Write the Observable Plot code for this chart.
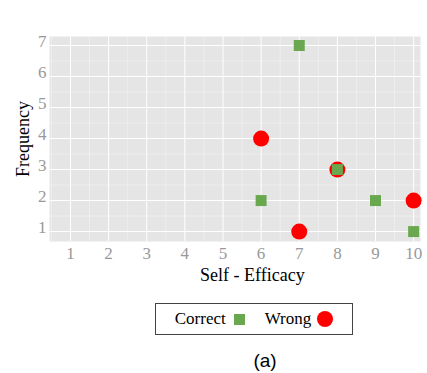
<!DOCTYPE html>
<html>
<head>
<meta charset="utf-8">
<script src="https://cdn.jsdelivr.net/npm/d3@7"></script>
<script src="https://cdn.jsdelivr.net/npm/@observablehq/plot@0.6"></script>
<style>
  body { margin: 0; background: #fff; }
  #wrap { position: relative; width: 427px; height: 373px; overflow: hidden; }
  #wrap svg text, #wrap svg g { font-family: "Liberation Serif", serif !important; }
  #legend {
    position: absolute; left: 155px; top: 303px; width: 196px; height: 30px;
    border: 1px solid #444; box-sizing: content-box;
    font-family: "Liberation Serif", "Times New Roman", serif; font-size: 17px; color: #000;
    display: flex; align-items: center; justify-content: center; gap: 0;
  }
  #legend .sq { display: inline-block; width: 11px; height: 11px; background: #6AA84F; margin-left: 8px; margin-right: 20px; }
  #legend .ci { display: inline-block; width: 16px; height: 16px; border-radius: 50%; background: #FF0000; margin-left: 6px; }
  #caption {
    position: absolute; left: 0; width: 530px; top: 350px; text-align: center;
    font-family: "Liberation Sans", Arial, sans-serif; font-size: 19px; color: #000;
  }
</style>
</head>
<body>
<div id="wrap"></div>
<script>
const xTicks = [1, 2, 3, 4, 5, 6, 7, 8, 9, 10];
const yTicks = [1, 2, 3, 4, 5, 6, 7];
const correctX = [7, 8, 6, 9, 10];
const correctY = [7, 3, 2, 2, 1];
const wrongX = [6, 8, 10, 7];
const wrongY = [4, 3, 2, 1];

const correct = correctX.map((x, i) => ({x, y: correctY[i]}));
const wrong = wrongX.map((x, i) => ({x, y: wrongY[i]}));
const xMinor = xTicks.map(d => d + 0.5).slice(0, -1).concat([0.5]);
const yMinor = yTicks.map(d => d + 0.5).slice(0, -1).concat([0.5]);

const serif = "Liberation Serif, serif";

const chart = Plot.plot({
  width: 427,
  height: 295,
  marginLeft: 49,
  marginRight: 7,
  marginTop: 36,
  marginBottom: 54,
  style: { fontFamily: serif, background: "transparent", overflow: "visible" },
  x: { domain: [0.45, 10.18], ticks: xTicks },
  y: { domain: [0.68, 7.29], ticks: yTicks },
  marks: [
    Plot.frame({ fill: "#E5E5E5", stroke: null }),
    Plot.ruleX(xMinor, { stroke: "#fff", strokeWidth: 0.5, strokeOpacity: 0.7 }),
    Plot.ruleY(yMinor, { stroke: "#fff", strokeWidth: 0.5, strokeOpacity: 0.7 }),
    Plot.ruleX(xTicks, { stroke: "#fff", strokeWidth: 1 }),
    Plot.ruleY(yTicks, { stroke: "#fff", strokeWidth: 1 }),
    Plot.axisX(xTicks, { tickSize: 0, tickPadding: 5, fontSize: 17, fill: "#999", label: null, fontFamily: serif }),
    Plot.axisY(yTicks, { tickSize: 0, tickPadding: 3, fontSize: 17, fill: "#999", label: null, dy: -4, fontFamily: serif }),
    Plot.text(["Self - Efficacy"], { frameAnchor: "bottom", dy: 27, x: () => 5.77, fontSize: 18, fill: "#000", fontFamily: serif, lineAnchor: "top", textAnchor: "middle" }),
    Plot.text(["Frequency"], { frameAnchor: "left", dx: -26, rotate: -90, fontSize: 18, fill: "#000", fontFamily: serif, textAnchor: "middle" }),
    Plot.dot(wrong, { x: "x", y: "y", r: 8, fill: "#FF0000", stroke: null }),
    Plot.dot(correct, { x: "x", y: "y", r: 6.2, symbol: "square", fill: "#6AA84F", stroke: null })
  ]
});
const wrap = document.getElementById("wrap");
wrap.appendChild(chart);
const legend = document.createElement("div");
legend.id = "legend";
legend.innerHTML = '<span>Correct</span><span class="sq"></span><span>Wrong</span><span class="ci"></span>';
wrap.appendChild(legend);
const cap = document.createElement("div");
cap.id = "caption";
cap.textContent = "(a)";
wrap.appendChild(cap);
</script>
</body>
</html>
